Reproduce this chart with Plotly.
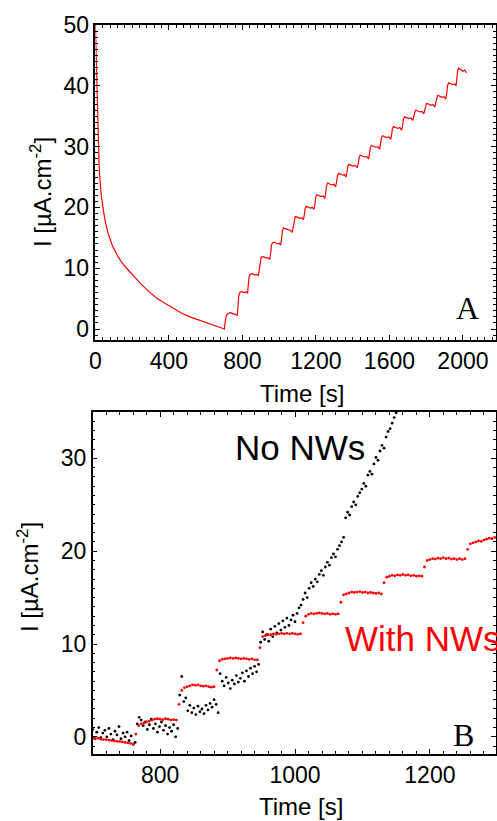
import plotly.graph_objects as go

# ---------------- Panel A data (time [s], current [uA/cm2]) ----------------
top_time = [
    0, 3, 6, 10, 13, 16, 20, 25, 32, 43, 55, 70, 90, 116, 140, 170, 200, 242, 290, 333,
    380, 423, 470, 514, 560, 605, 650, 692, 702,
    706, 712, 720, 735, 750, 765, 772,
    776, 780, 786, 795, 808, 820, 828,
    832, 836, 842, 852, 866, 878, 887,
    892, 896, 902, 914, 928, 940, 949,
    954, 958, 964, 976, 990, 1000, 1009,
    1014, 1018, 1024, 1036, 1050, 1062, 1071,
    1077, 1081, 1087, 1099, 1112, 1123, 1132,
    1137, 1141, 1147, 1158, 1170, 1181, 1190,
    1195, 1199, 1205, 1216, 1228, 1239, 1249,
    1254, 1258, 1264, 1275, 1287, 1298, 1307,
    1313, 1317, 1323, 1334, 1346, 1356, 1364,
    1369, 1373, 1379, 1390, 1402, 1414, 1425,
    1431, 1435, 1441, 1452, 1464, 1476, 1487,
    1492, 1496, 1502, 1513, 1525, 1537, 1547,
    1552, 1556, 1562, 1573, 1585, 1597, 1607,
    1612, 1616, 1622, 1633, 1645, 1657, 1667,
    1672, 1676, 1682, 1693, 1705, 1717, 1727,
    1732, 1736, 1742, 1753, 1765, 1777, 1787,
    1792, 1796, 1802, 1813, 1825, 1837, 1847,
    1852, 1856, 1862, 1873, 1885, 1897, 1907,
    1912, 1916, 1922, 1933, 1945, 1955, 1963,
    1967, 1971, 1977, 1988, 2000, 2010, 2020,
]
top_current = [
    50, 46, 43, 39.8, 34, 30, 27, 24.5, 22, 19.6, 17.5, 15.7, 13.9, 12.3, 11.1, 10.0, 9.0, 7.6, 6.2, 5.1,
    4.2, 3.4, 2.6, 2.0, 1.5, 1.0, 0.55, 0.15, 0.0,
    1.2, 2.2, 2.5, 2.7, 2.5, 2.4, 2.2,
    3.5, 5.4, 6.0, 6.2, 6.0, 6.1, 5.9,
    7.0, 8.5, 9.0, 9.1, 8.9, 9.0, 8.8,
    10.0, 11.3, 11.8, 11.9, 11.7, 11.7, 11.5,
    12.5, 13.8, 14.2, 14.3, 14.0, 14.1, 13.8,
    15.0, 16.2, 16.6, 16.5, 16.3, 16.2, 15.9,
    17.0, 18.1, 18.5, 18.4, 18.2, 18.3, 18.0,
    18.8, 19.8, 20.2, 20.1, 19.9, 20.0, 19.7,
    20.7, 21.7, 22.1, 22.0, 21.8, 21.9, 21.5,
    22.6, 23.6, 24.0, 23.9, 23.7, 23.8, 23.4,
    24.3, 25.2, 25.6, 25.5, 25.3, 25.4, 25.0,
    25.8, 26.7, 27.1, 27.0, 26.8, 26.9, 26.5,
    27.3, 28.2, 28.6, 28.5, 28.3, 28.4, 28.0,
    28.9, 29.8, 30.2, 30.1, 29.9, 30.0, 29.6,
    30.5, 31.4, 31.8, 31.7, 31.5, 31.6, 31.2,
    32.0, 32.9, 33.3, 33.2, 33.0, 33.1, 32.7,
    33.6, 34.5, 34.9, 34.8, 34.6, 34.7, 34.3,
    34.9, 35.6, 36.0, 35.9, 35.7, 35.8, 35.4,
    36.0, 36.7, 37.1, 37.0, 36.8, 36.9, 36.5,
    37.2, 38.0, 38.4, 38.3, 38.1, 38.2, 37.8,
    38.8, 40.0, 40.5, 40.4, 40.2, 40.3, 40.0,
    41.2, 42.5, 42.9, 42.7, 42.4, 42.6, 42.1,
]

# ---------------- Panel B data ----------------
# "With NWs" (red), sampled every 4 s from 700 s
with_nw_time = list(range(700, 1297, 4))
with_nw_current = [
    -0.1, -0.2, -0.15, -0.25, -0.3, -0.3, -0.35, -0.4, -0.45, -0.5, -0.5, -0.55, -0.6, -0.65, -0.7, -0.8,
    0.3, 1.2, 1.4, 1.5, 1.6, 1.7, 1.8, 1.9, 1.95, 1.9, 1.85, 1.95, 1.9, 1.8, 1.85, 1.8,
    3.5, 5.0, 5.3, 5.4, 5.5, 5.6, 5.55, 5.6, 5.5, 5.45, 5.5, 5.4, 5.35, 5.4, 7.2,
    8.2, 8.35, 8.4, 8.45, 8.5, 8.45, 8.5, 8.45, 8.4, 8.45, 8.4, 8.35, 8.4, 8.3, 8.3,
    9.6, 10.8, 10.9, 11.0, 11.0, 11.1, 11.05, 11.1, 11.15, 11.1, 11.15, 11.1, 11.15, 11.1, 11.05, 11.1,
    12.3, 13.0, 13.2, 13.3, 13.25, 13.3, 13.35, 13.3, 13.25, 13.3, 13.2, 13.25, 13.2, 13.25,
    14.5, 15.3, 15.4, 15.5, 15.6, 15.55, 15.6, 15.65, 15.55, 15.6, 15.5, 15.55, 15.5, 15.45, 15.5, 15.4,
    16.6, 17.2, 17.3, 17.4, 17.35, 17.45, 17.4, 17.5, 17.4, 17.45, 17.35, 17.4, 17.3, 17.35, 17.3,
    18.3, 19.0, 19.1, 19.2, 19.15, 19.25, 19.2, 19.3, 19.2, 19.25, 19.15, 19.2, 19.1, 19.2, 19.1, 19.2,
    20.2, 20.8, 20.9, 21.0, 21.1, 21.05, 21.2, 21.3, 21.4, 21.35, 21.5,
]
# "No NWs" (black), sampled every 3 s from 700 s
no_nw_time = list(range(700, 1151, 3))
no_nw_current = [
    0.8, -0.2, 0.5, 1.0, -0.1, 0.4, 0.7, 0.0, 0.9, 0.3, -0.3, 0.6, 0.2, 1.1, -0.2, 0.4, 0.0, 0.5, -0.4, 0.1, -0.8,
    -0.6, 1.4, 2.1, 1.8, 1.2, 1.6, 0.8, 1.3, 1.9, 0.9, 1.4, 0.5, 1.1, 1.6, 0.7, 1.2, 0.3, 1.0, 0.6, 1.3, 0.0, 0.9,
    4.5, 6.5, 3.8, 4.2, 2.8, 3.4, 2.6, 3.1, 2.4, 3.3, 2.7, 3.0, 2.5, 3.4, 2.9, 3.6, 3.2, 4.0, 3.5, 2.6,
    6.8, 6.0, 5.5, 6.4, 5.8, 5.2, 6.1, 5.7, 6.6, 5.9, 6.3, 6.9, 6.0, 7.1, 6.5, 7.4, 6.8, 7.6, 7.0, 7.8,
    10.2, 11.3, 10.5, 11.0, 10.3, 11.6, 10.8, 11.9, 11.2, 12.2, 11.5, 12.5, 11.8, 12.8, 12.0, 12.6, 13.1, 12.4, 13.3, 13.9,
    14.2, 14.8, 15.5, 15.0, 16.0, 16.6, 16.2, 17.0, 16.7, 17.5, 17.9, 17.4, 18.3, 18.8, 18.5, 19.3, 19.7, 19.4, 20.2, 20.6, 21.0,
    21.5, 23.6, 24.2, 23.9, 24.8, 25.3, 25.0, 25.9, 26.3, 26.7, 27.3, 27.0, 28.2, 28.6, 28.3, 29.4, 30.1, 29.8, 30.8,
    31.4, 31.1, 32.3, 32.9, 33.2, 33.8, 34.4, 34.9,
]

top_xticks = [0, 400, 800, 1200, 1600, 2000]
top_yticks = [0, 10, 20, 30, 40, 50]
bot_xticks = [800, 1000, 1200]
bot_yticks = [0, 10, 20, 30]

W, H = 497, 821
FONT = "Liberation Sans, Arial, sans-serif"

fig = go.Figure()
fig.add_trace(go.Scatter(x=top_time, y=top_current, mode="lines",
                         line=dict(color="#ff0000", width=1.2),
                         xaxis="x", yaxis="y", showlegend=False))
fig.add_trace(go.Scatter(x=no_nw_time, y=no_nw_current, mode="markers",
                         marker=dict(color="#000000", size=2.8),
                         xaxis="x2", yaxis="y2", showlegend=False))
fig.add_trace(go.Scatter(x=with_nw_time, y=with_nw_current, mode="markers",
                         marker=dict(color="#ff0000", size=2.8),
                         xaxis="x2", yaxis="y2", showlegend=False))

def ax(domain, rng, ticks, minor, anchor):
    return dict(domain=domain, range=rng, tickvals=ticks, ticks="inside",
                ticklen=5, tickwidth=1.3, tickcolor="black",
                minor=dict(dtick=minor, ticks="inside", ticklen=3, tickwidth=1, tickcolor="black"),
                showline=True, linecolor="black", linewidth=1.5, mirror="allticks",
                showgrid=False, zeroline=False, anchor=anchor, automargin=False,
                tickfont=dict(family=FONT, size=23, color="black"))

px = lambda v: v / W
py = lambda v: 1 - v / H

fig.update_layout(
    width=W, height=H, margin=dict(l=0, r=0, t=0, b=0, autoexpand=False),
    paper_bgcolor="white", plot_bgcolor="white",
    xaxis=ax([px(95.4), px(496)], [0, 2180], top_xticks, 40, "y"),
    yaxis=ax([py(340), py(25)], [-1.8, 50], top_yticks, 1, "x"),
    xaxis2=ax([px(92.7), px(496)], [700, 1298], bot_xticks, 20, "y2"),
    yaxis2=ax([py(754), py(412)], [-1.85, 35], bot_yticks, 1, "x2"),
)

ytitle = "I [µA.cm<sup>-2</sup>]"
ann = [
    dict(text="Time [s]", x=px(302), y=py(393), font=dict(family=FONT, size=24)),
    dict(text="Time [s]", x=px(301), y=py(806), font=dict(family=FONT, size=24)),
    dict(text=ytitle, x=px(41), y=py(192), textangle=-90, font=dict(family=FONT, size=24)),
    dict(text=ytitle, x=px(28), y=py(577), textangle=-90, font=dict(family=FONT, size=24)),
    dict(text="A", x=px(467), y=py(308), font=dict(family="Liberation Serif, Times New Roman, serif", size=32)),
    dict(text="B", x=px(463), y=py(735), font=dict(family="Liberation Serif, Times New Roman, serif", size=32)),
    dict(text="No NWs", x=px(300), y=py(447), font=dict(family=FONT, size=35, color="black")),
    dict(text="With NWs", x=px(343), y=py(638), xanchor="left", font=dict(family=FONT, size=35, color="#ff0000")),
]
for a in ann:
    a.setdefault("xanchor", "center")
    a.update(xref="paper", yref="paper", yanchor="middle", showarrow=False)
    a["font"].setdefault("color", "black")
fig.update_layout(annotations=ann)

fig.write_html("out.html", config={"displayModeBar": False},
               post_script="document.body.style.margin='0';document.body.style.overflow='hidden';")
